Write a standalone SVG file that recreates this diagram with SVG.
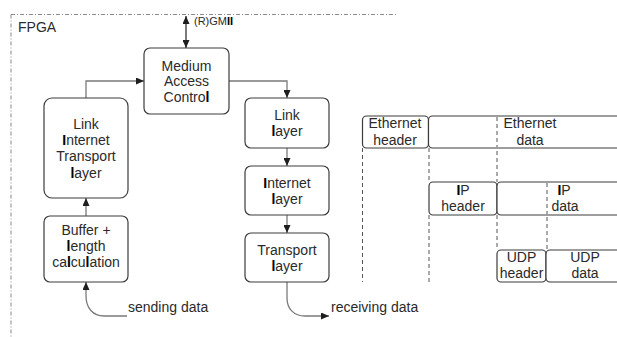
<svg xmlns="http://www.w3.org/2000/svg" width="617" height="337" viewBox="0 0 617 337">
  <defs>
    <marker id="arrow" markerUnits="userSpaceOnUse" markerWidth="8" markerHeight="7" refX="8" refY="3.5" orient="auto-start-reverse">
      <path d="M0,0 L8,3.5 L0,7 z" fill="#1e1e1e"/>
    </marker>
    <style>
      .t{font-family:"Liberation Sans",Arial,sans-serif;font-size:14px;fill:#2a2a2a;text-anchor:middle}
      .s{font-weight:bold;fill:#000}
      .box{fill:#fff;stroke:#3c3c3c;stroke-width:1.2}
      .frame{fill:none;stroke:#8a8a8a;stroke-width:1;stroke-dasharray:4 2 1 2}
      .conn{fill:none;stroke:#7a7a7a;stroke-width:1.3}
      .dash{fill:none;stroke:#555;stroke-width:1;stroke-dasharray:4 3}
      .pkt{fill:#fff;stroke:#3c3c3c;stroke-width:1.2}
    </style>
  </defs>

  <!-- FPGA boundary -->
  <g id="fpga">
    <path class="frame" d="M11,14.5 H396 M11,14.5 V337"/>
    <text class="t" x="18" y="31.5" style="text-anchor:start">FPGA</text>
  </g>

  <!-- connectors -->
  <g id="connectors">
    <path class="conn" d="M186,16 V48" stroke="#333" style="stroke:#333" marker-start="url(#arrow)" marker-end="url(#arrow)"/>
    <path class="conn" d="M86,98 V81 H144" marker-end="url(#arrow)"/>
    <path class="conn" d="M229,81 H287 V98" marker-end="url(#arrow)"/>
    <path class="conn" d="M287,148 V166" marker-end="url(#arrow)"/>
    <path class="conn" d="M287,215 V233" marker-end="url(#arrow)"/>
    <path class="conn" d="M86,216 V198" marker-end="url(#arrow)"/>
    <path class="conn" d="M127,316 H104 C93,316 86,308 86,296 V282" marker-end="url(#arrow)"/>
    <path class="conn" d="M287,282 V298 C287,309 294,316 305,316 H329" marker-end="url(#arrow)"/>
  </g>

  <g id="rgmii-label">
    <text class="t" x="194" y="25" style="text-anchor:start;font-size:11px">(R)GM<tspan class="s">II</tspan></text>
  </g>

  <g id="mac">
    <rect class="box" x="144" y="48" width="85" height="66" rx="6"/>
    <text class="t" x="186.5" y="70.5">Medium</text>
    <text class="t" x="186.5" y="86">Access</text>
    <text class="t" x="186.5" y="101.5">Contro<tspan class="s">l</tspan></text>
  </g>

  <g id="tx-stack">
    <rect class="box" x="44" y="98" width="84" height="100" rx="8"/>
    <text class="t" x="86" y="128.5">Link</text>
    <text class="t" x="86" y="144.8"><tspan class="s">I</tspan>nternet</text>
    <text class="t" x="86" y="161.2">Transport</text>
    <text class="t" x="86" y="177.5"><tspan class="s">l</tspan>ayer</text>
  </g>

  <g id="buffer">
    <rect class="box" x="44" y="216" width="84" height="66" rx="6"/>
    <text class="t" x="86" y="235">Buffer +</text>
    <text class="t" x="86" y="251"><tspan class="s">l</tspan>ength</text>
    <text class="t" x="86" y="266.5">ca<tspan class="s">l</tspan>cu<tspan class="s">l</tspan>ation</text>
  </g>

  <g id="link-layer">
    <rect class="box" x="245" y="98" width="84" height="50" rx="6"/>
    <text class="t" x="287" y="120">Link</text>
    <text class="t" x="287" y="136"><tspan class="s">l</tspan>ayer</text>
  </g>

  <g id="internet-layer">
    <rect class="box" x="245" y="166" width="84" height="49" rx="6"/>
    <text class="t" x="287" y="187.5"><tspan class="s">I</tspan>nternet</text>
    <text class="t" x="287" y="203.5"><tspan class="s">l</tspan>ayer</text>
  </g>

  <g id="transport-layer">
    <rect class="box" x="245" y="233" width="84" height="49" rx="6"/>
    <text class="t" x="287" y="254.5">Transport</text>
    <text class="t" x="287" y="270.5"><tspan class="s">l</tspan>ayer</text>
  </g>

  <g id="io-labels">
    <text class="t" x="128" y="312" style="text-anchor:start">sending data</text>
    <text class="t" x="331" y="312" style="text-anchor:start">receiving data</text>
  </g>

  <!-- frame encapsulation guides -->
  <g id="guides">
    <path class="dash" d="M362.5,148 V282 M429,148 V182 M429,215 V282 M497,116 V182 M497,215 V250 M547,182 V250"/>
  </g>

  <g id="ethernet-frame">
    <rect class="pkt" x="362.5" y="116" width="66" height="32" rx="4"/>
    <rect class="pkt" x="428.5" y="116" width="220" height="32" rx="4"/>
    <path class="dash" d="M497,117 V147"/>
    <text class="t" x="395" y="128">Ethernet</text>
    <text class="t" x="395" y="145">header</text>
    <text class="t" x="530" y="128">Ethernet</text>
    <text class="t" x="530" y="145">data</text>
  </g>

  <g id="ip-packet">
    <rect class="pkt" x="429" y="182" width="68" height="33" rx="4"/>
    <rect class="pkt" x="497" y="182" width="160" height="33" rx="4"/>
    <path class="dash" d="M547,183 V214"/>
    <text class="t" x="463" y="194.5"><tspan class="s">I</tspan>P</text>
    <text class="t" x="463" y="211">header</text>
    <text class="t" x="564" y="194.5"><tspan class="s">I</tspan>P</text>
    <text class="t" x="565" y="211">data</text>
  </g>

  <g id="udp-datagram">
    <rect class="pkt" x="497" y="250" width="49" height="32" rx="4"/>
    <rect class="pkt" x="546" y="250" width="110" height="32" rx="4"/>
    <text class="t" x="521.5" y="261.5">UDP</text>
    <text class="t" x="521.5" y="277.5">header</text>
    <text class="t" x="585" y="261.5">UDP</text>
    <text class="t" x="585" y="277.5">data</text>
  </g>
</svg>
